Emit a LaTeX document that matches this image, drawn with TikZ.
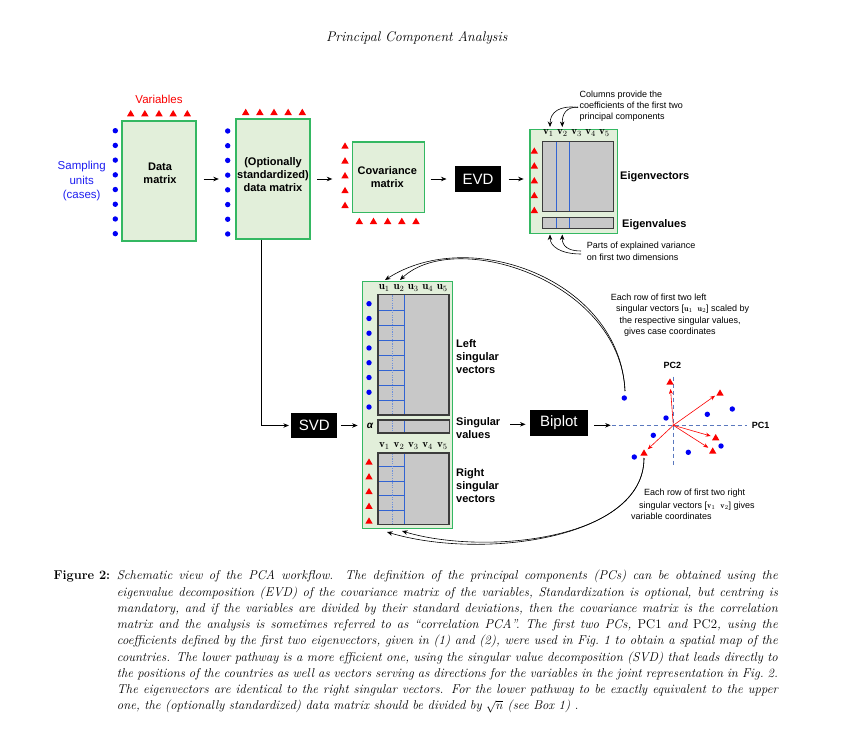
\documentclass[tikz,border=0pt]{standalone}
\usepackage{fontspec}
\newfontfamily\arial{Liberation Sans}
\usetikzlibrary{arrows.meta}
\definecolor{gbord}{RGB}{52,184,98}
\definecolor{gfill}{RGB}{226,239,218}
\definecolor{mfill}{RGB}{200,200,200}
\definecolor{mbord}{RGB}{60,60,60}
\definecolor{ptblue}{RGB}{0,0,245}
\definecolor{ptred}{RGB}{250,0,0}
\definecolor{gridblue}{RGB}{50,100,210}
\definecolor{dotblue}{RGB}{110,145,220}
\definecolor{axblue}{RGB}{90,120,190}
\definecolor{labblue}{RGB}{30,30,240}
\begin{document}
\begin{tikzpicture}[x=1pt,y=-1pt,
 gbox/.style={draw=gbord,fill=gfill,line width=1.4pt,inner sep=0pt},
 mat/.style={draw=mbord,fill=mfill,line width=1.1pt,inner sep=0pt},
 blk/.style={fill=black,text=white,inner sep=0pt,font=\arial\fontsize{15}{18}\selectfont},
 arr/.style={-{Stealth[length=5.5pt,width=4.5pt]},line width=0.75pt},
 rarr/.style={draw=ptred,-{Stealth[length=5pt,width=4pt]},line width=0.6pt},
 lbl/.style={font=\arial\bfseries\fontsize{11}{13}\selectfont,align=center,inner sep=0pt},
 sidelbl/.style={font=\arial\bfseries\fontsize{11}{13}\selectfont,align=left,anchor=west,inner sep=0pt},
 note/.style={font=\arial\fontsize{9}{11.3}\selectfont,align=left,anchor=west,inner sep=0pt},
 vlab/.style={font=\fontsize{11}{12}\selectfont,inner sep=0pt},
 gridl/.style={draw=gridblue,line width=0.7pt},
 gridd/.style={draw=dotblue,line width=0.7pt,dash pattern=on 1.2pt off 1.2pt},
 axis/.style={draw=axblue,line width=0.8pt,dash pattern=on 4pt off 3pt},
 captxt/.style={font=\fontsize{12.8}{14}\selectfont\itshape,anchor=west,inner sep=0pt},
 tri/.pic={\fill[ptred] (-3.7,3) -- (3.7,3) -- (0,-3.3) -- cycle;},
 bdot/.pic={\fill[ptblue] (0,0) circle (2.7pt);}
]
\useasboundingbox (0,0) rectangle (858,733);

% title
\node[font=\fontsize{14}{16}\selectfont\itshape,inner sep=0pt] (title) at (416.7,38) {Principal Component Analysis};

% data matrix
\node[gbox,minimum width=74pt,minimum height=120pt] (dm) at (159,181) {};
\node[lbl] (dmt) at (160,173) {Data\\matrix};
\foreach \k in {0,...,7} \pic at (115.3,130.7+\k*14.71) {bdot};
\foreach \k in {0,...,4} \pic at (130.7+\k*14.15,113.3) {tri};
\node[font=\arial\fontsize{11.5}{14}\selectfont,text=ptred,inner sep=0pt] (vars) at (159,99) {Variables};
\node[font=\arial\fontsize{11.5}{14.5}\selectfont,text=labblue,align=center,inner sep=0pt] (su) at (81.7,181.5) {Sampling\\units\\(cases)};

% standardized data matrix
\node[gbox,minimum width=74pt,minimum height=120pt] (sdm) at (273,179) {};
\node[lbl] (sdmt) at (273,175) {(Optionally\\standardized)\\data matrix};
\foreach \k in {0,...,7} \pic at (227.7,131+\k*14.71) {bdot};
\foreach \k in {0,...,4} \pic at (245.7+\k*14.15,112) {tri};

% covariance
\node[gbox,minimum width=71.6pt,minimum height=70.3pt] (cov) at (388.5,177.2) {};
\node[lbl] (covt) at (387.3,177.5) {Covariance\\matrix};
\foreach \k in {0,...,4} \pic at (345,145.7+\k*14.83) {tri};
\foreach \k in {0,...,4} \pic at (359.3+\k*14.17,221) {tri};

% EVD
\node[blk,minimum width=45.4pt,minimum height=26pt] (evd) at (478,179) {EVD};

% eigen box
\node[gbox,minimum width=87.3pt,minimum height=104pt] (eig) at (573.7,181.3) {};
\node[mat,minimum width=71pt,minimum height=70pt] (evec) at (578.2,176.7) {};
\node[mat,minimum width=71pt,minimum height=11.4pt] (eval) at (578.2,223) {};
\foreach \x in {556.7,569.3} {
  \draw[gridl] (\x,142.3) -- (\x,211.1);
  \draw[gridl] (\x,217.9) -- (\x,228.1);
}
\foreach \k in {0,...,4} \pic at (534.3,150.7+\k*14.83) {tri};
\node[vlab] (ev1) at (548.3,133.3) {$\mathbf{v}_1$};
\node[vlab] (ev2) at (562.3,133.3) {$\mathbf{v}_2$};
\node[vlab] (ev3) at (576.7,133.3) {$\mathbf{v}_3$};
\node[vlab] (ev4) at (590.7,133.3) {$\mathbf{v}_4$};
\node[vlab] (ev5) at (604.3,133.3) {$\mathbf{v}_5$};
\node[sidelbl] (evecl) at (620,176.7) {Eigenvectors};
\node[sidelbl] (evall) at (622,224.3) {Eigenvalues};

\node[note] (colnote) at (579.3,106.3) {Columns provide the\\coefficients of the first two\\principal components};
\coordinate (cn1) at (578,107.5);
\coordinate (cn2) at (578,107);
\draw[arr,line width=0.6pt] (cn1) .. controls (560,105) and (550,112) .. (550,127);
\draw[arr,line width=0.6pt] (cn2) .. controls (566,107) and (562,114) .. (562.3,127);
\node[note] (varnote) at (586.7,251.2) {Parts of explained variance\\on first two dimensions};
\coordinate (vn1) at (581,254);
\coordinate (vn2) at (581,251);
\draw[arr,line width=0.6pt] (vn1) .. controls (560,254) and (550,246) .. (550,234.5);
\draw[arr,line width=0.6pt] (vn2) .. controls (568,251) and (562,246) .. (562.3,234.5);

% connectors top row
\draw[arr,shorten <=7pt,shorten >=16.5pt] (dm.east |- sdm.west) -- (sdm.west);
\draw[arr,shorten <=6.7pt,shorten >=19.7pt] (sdm.east) -- (cov.west |- sdm.east);
\draw[arr,shorten <=5.7pt,shorten >=8.6pt] (cov.east |- evd.west) -- (evd.west);
\draw[arr,shorten <=7.6pt,shorten >=5.7pt] (evd.east) -- (eig.west |- evd.east);

% SVD
\node[blk,minimum width=46.3pt,minimum height=25.6pt] (svd) at (314.2,425.5) {SVD};
\draw[arr,shorten >=2pt] ([xshift=-11.3pt]sdm.south) |- (svd.west);

% SVD green box
\node[gbox,minimum width=89.6pt,minimum height=246.6pt] (svdb) at (407.5,405) {};
\node[mat,minimum width=71pt,minimum height=120.3pt] (lsv) at (413.5,354.85) {};
\node[mat,minimum width=71.7pt,minimum height=13pt] (sv) at (413.85,426.5) {};
\node[mat,minimum width=71pt,minimum height=71.3pt] (rsv) at (413.5,488.65) {};
\foreach \k in {0,...,6} \draw[gridl] (378.6,310.3+\k*15) -- (404.3,310.3+\k*15);
\foreach \k in {0,...,3} \draw[gridl] (378.6,466.7+\k*14.5) -- (404.3,466.7+\k*14.5);
\draw[gridl] (404.3,295.3) -- (404.3,414.4);
\draw[gridl] (404.3,420.6) -- (404.3,432.4);
\draw[gridl] (404.3,453.6) -- (404.3,523.7);
\draw[gridd] (392,295.3) -- (392,414.4);
\draw[gridd] (392,420.6) -- (392,432.4);
\draw[gridd] (392,453.6) -- (392,523.7);
\foreach \k in {0,...,7} \pic at (369,303.7+\k*14.76) {bdot};
\foreach \k in {0,...,4} \pic at (369,461.7+\k*14.75) {tri};
\node[font=\arial\itshape\bfseries\fontsize{10}{12}\selectfont,inner sep=0pt] (alpha) at (370,426) {α};
\node[vlab] (u1) at (384.3,288.3) {$\mathbf{u}_1$};
\node[vlab] (u2) at (399,288.3) {$\mathbf{u}_2$};
\node[vlab] (u3) at (413.3,288.3) {$\mathbf{u}_3$};
\node[vlab] (u4) at (427.7,288.3) {$\mathbf{u}_4$};
\node[vlab] (u5) at (442.3,288.3) {$\mathbf{u}_5$};
\node[vlab] (sv1) at (384.3,446) {$\mathbf{v}_1$};
\node[vlab] (sv2) at (399,446) {$\mathbf{v}_2$};
\node[vlab] (sv3) at (413.3,446) {$\mathbf{v}_3$};
\node[vlab] (sv4) at (427.7,446) {$\mathbf{v}_4$};
\node[vlab] (sv5) at (442.3,446) {$\mathbf{v}_5$};
\node[sidelbl] (lsvl) at (456,356.5) {Left\\singular\\vectors};
\node[sidelbl] (svl) at (456,428) {Singular\\values};
\node[sidelbl] (rsvl) at (456,485.8) {Right\\singular\\vectors};
\draw[arr,shorten <=3.4pt,shorten >=4.4pt] (svd.east) -- (svdb.west |- svd.east);

% Biplot
\node[blk,minimum width=57.7pt,minimum height=25.7pt] (bip) at (558.9,422.9) {Biplot};
\coordinate (sv2bp) at (510,424.3);
\draw[arr,shorten >=4.3pt] (sv2bp) -- (bip.west |- sv2bp);

\coordinate (O) at (673.3,425.3);
\coordinate (axL) at (611.7,425.3);
\coordinate (axR) at (746.7,425.3);
\coordinate (axT) at (673.3,376.7);
\coordinate (axB) at (673.3,465);
\draw[axis] (axL) -- (axR);
\draw[axis] (axT) -- (axB);
\draw[arr,shorten <=6.3pt,shorten >=1pt] (bip.east |- axL) -- (axL);
\node[font=\arial\bfseries\fontsize{9}{11}\selectfont,anchor=west,inner sep=0pt] (pc1) at (751.7,425.3) {PC1};
\node[font=\arial\bfseries\fontsize{9}{11}\selectfont,inner sep=0pt] (pc2) at (672.3,365) {PC2};

\foreach \p in {(624.3,398),(666,418),(707.3,414.3),(732.3,409),(653.3,435.3),(721,446),(688.3,452.3),(634.3,457)} \pic at \p {bdot};
\coordinate (t1) at (670.5,389);
\coordinate (t2) at (715,395.7);
\coordinate (t3) at (710.7,436);
\coordinate (t4) at (708.3,447.7);
\coordinate (t5) at (647.7,449.3);
\foreach \t in {t1,t2,t3,t4,t5} \draw[rarr] (O) -- (\t);
\foreach \p in {(670,381.7),(720,392.7),(715.7,437.3),(712.7,450.7),(644,452.7)} \pic at \p {tri};

% biplot notes
\node[note] (ln1) at (610.7,297.3) {Each row of first two left};
\node[note] (ln2) at (616,309.5) {singular vectors [{\fontsize{8}{9}\selectfont$\mathbf{u}_1\;\;\mathbf{u}_2$}] scaled by};
\node[note] (ln3) at (619.3,321) {the respective singular values,};
\node[note] (ln4) at (624,331.7) {gives case coordinates};
\node[note] (rn1) at (644,493.3) {Each row of first two right};
\node[note] (rn2) at (639,505.7) {singular vectors [{\fontsize{8}{9}\selectfont$\mathbf{v}_1\;\;\mathbf{v}_2$}] gives};
\node[note] (rn3) at (631,516.7) {variable coordinates};

% curved arrows back to SVD box
\coordinate (cs) at (625,391);
\draw[arr,line width=0.6pt] (cs) .. controls (620,280) and (470,225) .. (385,280);
\draw[arr,line width=0.6pt] (cs) .. controls (620,280) and (455,228) .. (400,280);
\coordinate (vs) at (644,458);
\draw[arr,line width=0.6pt] (vs) .. controls (644,540) and (480,560) .. (387,532);
\draw[arr,line width=0.6pt] (vs) .. controls (644,540) and (485,556) .. (402,531);

% caption
\node[font=\fontsize{12.8}{14}\selectfont\bfseries,anchor=west,inner sep=0pt] (fig) at (53.3,576.7) {Figure 2:};
\node[captxt] (c1) at (116.7,576.7) {\makebox[661pt][s]{Schematic view of the PCA workflow. The definition of the principal components (PCs) can be obtained using the}};
\node[captxt] (c2) at (116.7,592.95) {\makebox[661pt][s]{eigenvalue decomposition (EVD) of the covariance matrix of the variables, Standardization is optional, but centring is}};
\node[captxt] (c3) at (116.7,609.2) {\makebox[661pt][s]{mandatory, and if the variables are divided by their standard deviations, then the covariance matrix is the correlation}};
\node[captxt] (c4) at (116.7,625.45) {\makebox[661pt][s]{matrix and the analysis is sometimes referred to as “correlation PCA”. The first two PCs, {\upshape PC1} and {\upshape PC2}, using the}};
\node[captxt] (c5) at (116.7,641.7) {\makebox[661pt][s]{coefficients defined by the first two eigenvectors, given in (1) and (2), were used in Fig.~1 to obtain a spatial map of the}};
\node[captxt] (c6) at (116.7,657.95) {\makebox[661pt][s]{countries. The lower pathway is a more efficient one, using the singular value decomposition (SVD) that leads directly to}};
\node[captxt] (c7) at (116.7,674.2) {\makebox[661pt][s]{the positions of the countries as well as vectors serving as directions for the variables in the joint representation in Fig.~2.}};
\node[captxt] (c8) at (116.7,690.45) {\makebox[661pt][s]{The eigenvectors are identical to the right singular vectors. For the lower pathway to be exactly equivalent to the upper}};
\node[captxt] (c9) at (116.7,706.7) {one, the (optionally standardized) data matrix should be divided by $\sqrt{n}$ (see Box 1) .};
\end{tikzpicture}
\end{document}
